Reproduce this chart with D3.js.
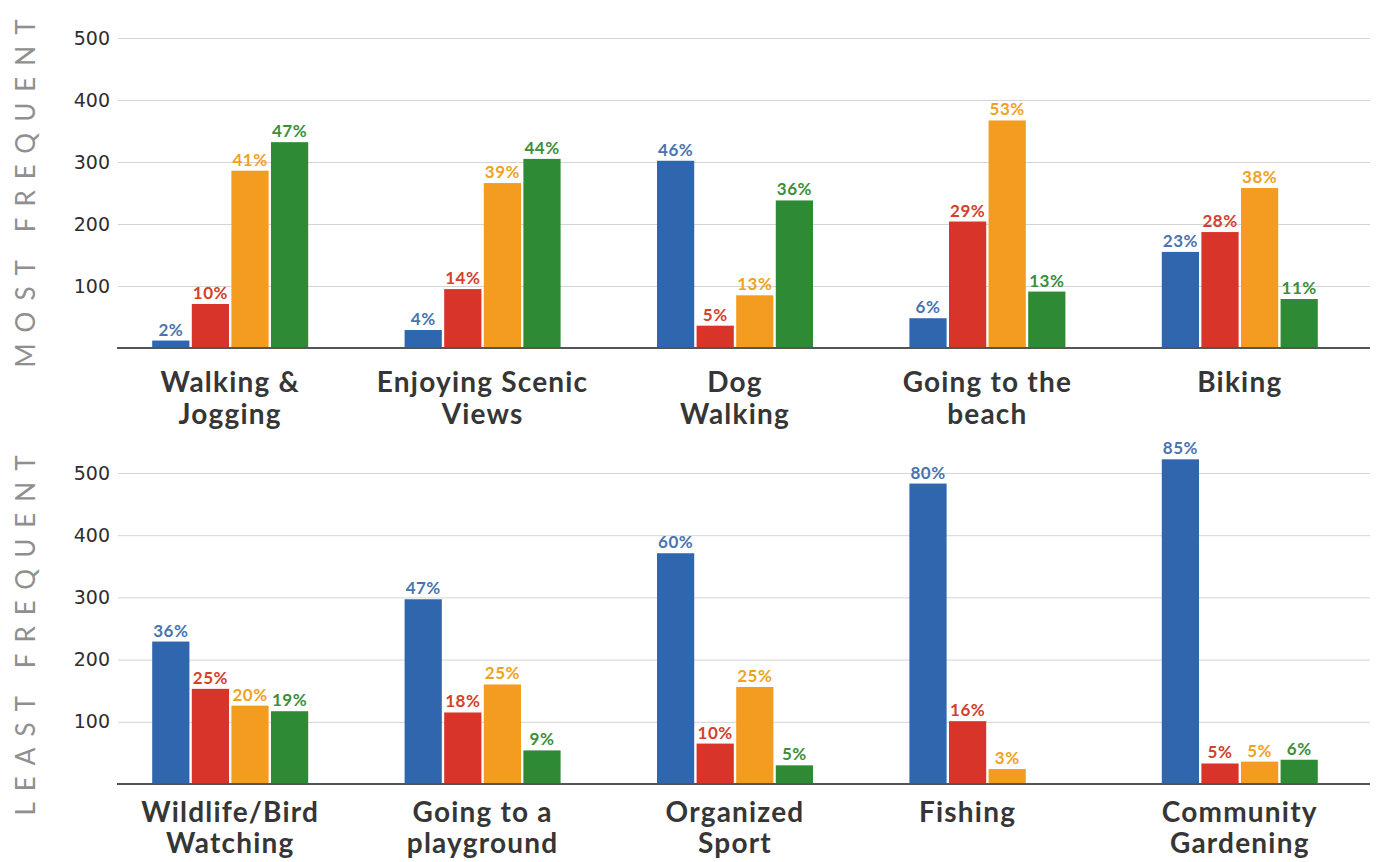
<!DOCTYPE html>
<html>
<head>
<meta charset="utf-8">
<script src="https://cdn.jsdelivr.net/npm/d3@7"></script>
<style>
  html, body { margin: 0; padding: 0; background: #fff; }
  svg { display: block; }
</style>
</head>
<body>
<svg id="chart" width="1379" height="862"></svg>
<script>
// ---- Data ----
const series = ["Blue", "Red", "Orange", "Green"];
const seriesColors = ["#2f66ad", "#d8342a", "#f39c1f", "#2f8a36"];
const labelColors = ["#4a74b0", "#d2412c", "#f0a21c", "#3b8f3b"];

const topCategories = [["Walking &", "Jogging"], ["Enjoying Scenic", "Views"], ["Dog", "Walking"], ["Going to the", "beach"], ["Biking"]];
const topBlue   = [12, 29, 302, 48, 155];
const topRed    = [71, 95, 36, 204, 187];
const topOrange = [286, 266, 85, 367, 258];
const topGreen  = [332, 305, 238, 91, 79];
const topPctBlue   = ["2%", "4%", "46%", "6%", "23%"];
const topPctRed    = ["10%", "14%", "5%", "29%", "28%"];
const topPctOrange = ["41%", "39%", "13%", "53%", "38%"];
const topPctGreen  = ["47%", "44%", "36%", "13%", "11%"];

const bottomCategories = [["Wildlife/Bird", "Watching"], ["Going to a", "playground"], ["Organized", "Sport"], ["Fishing"], ["Community", "Gardening"]];
const bottomBlue   = [229, 297, 371, 483, 522];
const bottomRed    = [153, 115, 65, 101, 33];
const bottomOrange = [126, 160, 156, 24, 36];
const bottomGreen  = [117, 54, 30, null, 39];
const bottomPctBlue   = ["36%", "47%", "60%", "80%", "85%"];
const bottomPctRed    = ["25%", "18%", "10%", "16%", "5%"];
const bottomPctOrange = ["20%", "25%", "25%", "3%", "5%"];
const bottomPctGreen  = ["19%", "9%", "5%", null, "6%"];

const yTicks = [100, 200, 300, 400, 500];
const yDomain = [0, 500];

// ---- Drawing ----
const svg = d3.select("#chart");
svg.append("rect").attr("width", 1379).attr("height", 862).attr("fill", "#fff");

function drawPanel(opts) {
  const { cats, values, pcts, yTop, yBottom, title, titleY, labelOffset, lineGap } = opts;
  const g = svg.append("g");
  const catKeys = cats.map(c => c.join(" "));

  const x0 = d3.scaleBand().domain(catKeys).range([104, 1366]).padding(0);
  const groupW = 156;
  const x1 = d3.scaleBand().domain(series)
    .range([(x0.bandwidth() - groupW) / 2, (x0.bandwidth() + groupW) / 2])
    .paddingInner(0.06).paddingOuter(0);
  const y = d3.scaleLinear().domain(yDomain).range([yBottom, yTop]);

  // gridlines + tick labels
  const yAxis = d3.axisLeft(y).tickValues(yTicks).tickSize(-(1370 - 118)).tickPadding(8);
  const ax = g.append("g").attr("transform", "translate(118,0)").call(yAxis);
  ax.select(".domain").remove();
  ax.selectAll(".tick line").attr("stroke", "#d4d4d4").attr("stroke-width", 1);
  ax.selectAll(".tick text")
    .attr("x", -8)
    .attr("fill", "#2e2e2e")
    .style("font-family", "'DejaVu Sans', sans-serif")
    .style("font-size", "19px");

  // bars
  catKeys.forEach((ck, i) => {
    const gx = x0(ck);
    series.forEach((s, j) => {
      const v = values[j][i];
      if (v == null) return;
      const bx = gx + x1(s);
      g.append("rect")
        .attr("x", bx).attr("width", x1.bandwidth())
        .attr("y", y(v)).attr("height", y(0) - y(v))
        .attr("fill", seriesColors[j]);
      g.append("text")
        .attr("x", bx + x1.bandwidth() / 2)
        .attr("y", y(v) - 5)
        .attr("text-anchor", "middle")
        .attr("fill", labelColors[j])
        .style("font-family", "Lato, 'Noto Sans', sans-serif")
        .style("font-weight", "700")
        .style("font-size", "17px")
        .style("letter-spacing", "0.5px")
        .text(pcts[j][i]);
    });
    // category label centered on present bars
    const present = series.filter((s, j) => values[j][i] != null);
    const cx = d3.mean(present, s => gx + x1(s) + x1.bandwidth() / 2);
    const t = g.append("text")
      .attr("text-anchor", "middle")
      .attr("fill", "#363636")
      .style("font-family", "Lato, 'Noto Sans', sans-serif")
      .style("font-weight", "700")
      .style("font-size", "28px")
      .style("letter-spacing", "1.2px");
    cats[i].forEach((line, k) => {
      t.append("tspan").attr("x", cx).attr("y", y(0) + labelOffset + k * lineGap).text(line);
    });
  });

  // baseline
  g.append("line")
    .attr("x1", 117).attr("x2", 1370)
    .attr("y1", y(0)).attr("y2", y(0))
    .attr("stroke", "#555").attr("stroke-width", 2);

  // vertical title
  g.append("text")
    .attr("transform", `translate(35,${titleY}) rotate(-90)`)
    .attr("text-anchor", "middle")
    .attr("fill", "#8f8f8f")
    .style("font-family", "Lato, sans-serif")
    .style("font-weight", "400")
    .style("font-size", "26px")
    .style("letter-spacing", "11px")
    .text(title);
}

drawPanel({
  cats: topCategories,
  values: [topBlue, topRed, topOrange, topGreen],
  pcts: [topPctBlue, topPctRed, topPctOrange, topPctGreen],
  yTop: 38, yBottom: 348,
  title: "MOST FREQUENT", titleY: 188,
  labelOffset: 44, lineGap: 32
});

drawPanel({
  cats: bottomCategories,
  values: [bottomBlue, bottomRed, bottomOrange, bottomGreen],
  pcts: [bottomPctBlue, bottomPctRed, bottomPctOrange, bottomPctGreen],
  yTop: 473, yBottom: 784,
  title: "LEAST FREQUENT", titleY: 630,
  labelOffset: 38, lineGap: 31
});
</script>
</body>
</html>
